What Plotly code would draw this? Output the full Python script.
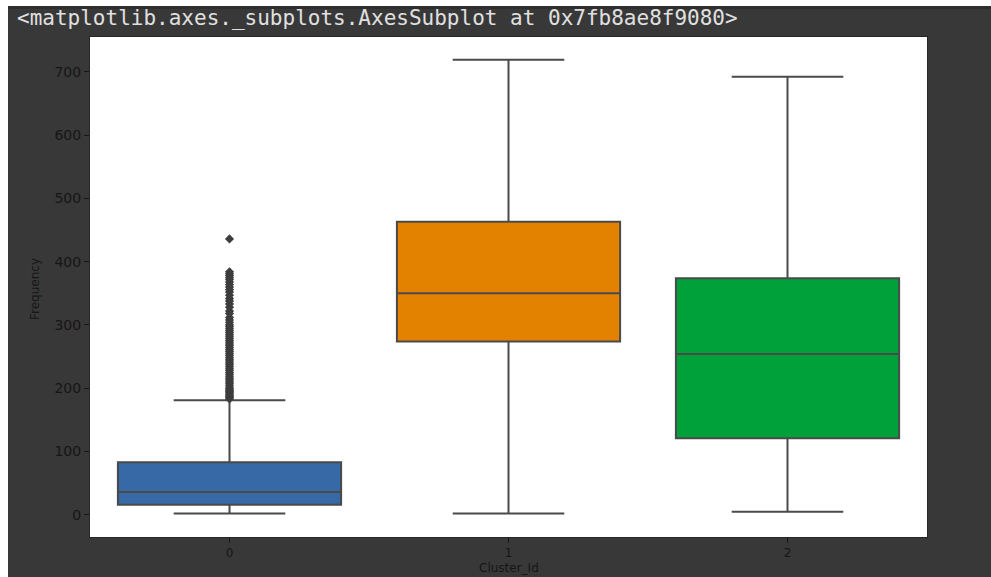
import plotly.graph_objects as go

# ---- data ----
categories = ["0", "1", "2"]
lower_whisker = [2, 2, 5]
q1_values = [16, 274, 121]
median_values = [36, 350, 254]
q3_values = [83, 463, 374]
upper_whisker = [181, 719, 692]
box_colors = ["#3669a5", "#e28200", "#00a03a"]

outliers_cluster0 = [183, 185, 187, 189, 191, 193, 195, 197, 199, 201, 204, 207,
                     210, 213, 216, 219, 222, 225, 228, 231, 234, 237, 240, 243,
                     246, 249, 252, 255, 258, 261, 264, 267, 270, 273, 276, 279,
                     282, 285, 288, 291, 294, 297, 300, 304, 308, 312, 318, 322,
                     328, 333, 338, 342, 347, 352, 356, 360, 364, 368, 372, 375,
                     378, 381, 384, 436]

y_ticks = [0, 100, 200, 300, 400, 500, 600, 700]

W, H = 991, 577
L, R, T, B = 90, 64, 37, 40
PW, PH = W - L - R, H - T - B

def px_x(px):
    return (px - L) / PW

def px_y(py):
    return (H - B - py) / PH

fig = go.Figure()

edge = "#4a4a4a"
for i, cat in enumerate(categories):
    fig.add_trace(go.Box(
        x=[cat],
        q1=[q1_values[i]], median=[median_values[i]], q3=[q3_values[i]],
        lowerfence=[lower_whisker[i]], upperfence=[upper_whisker[i]],
        fillcolor=box_colors[i],
        line=dict(color=edge, width=2),
        width=0.8, whiskerwidth=0.5,
        boxpoints=False, showlegend=False, hoverinfo="skip",
    ))

fig.add_trace(go.Scatter(
    x=[categories[0]] * len(outliers_cluster0), y=outliers_cluster0,
    mode="markers",
    marker=dict(symbol="diamond", size=7, color="#3d3d3d",
                line=dict(color="#3d3d3d", width=0)),
    showlegend=False, hoverinfo="skip",
))

tick_col = "#161616"
fig.update_layout(
    width=W, height=H,
    margin=dict(l=L, r=R, t=T, b=B, pad=0),
    paper_bgcolor="#383838",
    plot_bgcolor="#ffffff",
    font=dict(family="DejaVu Sans", color=tick_col),
    boxmode="overlay",
    xaxis=dict(type="category", categoryorder="array", categoryarray=categories,
               range=[-0.5, 2.5], showgrid=False, zeroline=False,
               showline=True, linecolor="#262626", linewidth=1, mirror=True,
               ticks="outside", ticklen=5, tickwidth=1, tickcolor=tick_col,
               tickfont=dict(size=12, color=tick_col)),
    yaxis=dict(range=[-35, 755], tickvals=y_ticks,
               ticktext=[str(v) for v in y_ticks],
               showgrid=False, zeroline=False,
               showline=True, linecolor="#262626", linewidth=1, mirror=True,
               ticks="outside", ticklen=5, tickwidth=1, tickcolor=tick_col,
               tickfont=dict(size=14, color=tick_col)),
    shapes=[
        # page white strips around the dark output cell
        dict(type="rect", xref="paper", yref="paper",
             x0=px_x(-5), x1=px_x(8), y0=px_y(H + 5), y1=px_y(-5),
             fillcolor="#ffffff", line=dict(width=0), layer="below"),
        dict(type="rect", xref="paper", yref="paper",
             x0=px_x(-5), x1=px_x(W + 5), y0=px_y(6), y1=px_y(-5),
             fillcolor="#ffffff", line=dict(width=0), layer="below"),
        dict(type="rect", xref="paper", yref="paper",
             x0=px_x(8), x1=px_x(W + 5), y0=px_y(9), y1=px_y(6),
             fillcolor="#2e2e2e", line=dict(width=0), layer="below"),
    ],
    annotations=[
        dict(text="&lt;matplotlib.axes._subplots.AxesSubplot at 0x7fb8ae8f9080&gt;",
             xref="paper", yref="paper", x=px_x(15), y=px_y(18),
             xanchor="left", yanchor="middle", showarrow=False,
             font=dict(family="DejaVu Sans Mono", size=21, color="#e0e0e0")),
        dict(text="Frequency", xref="paper", yref="paper",
             x=px_x(35), y=px_y(289), textangle=-90,
             xanchor="center", yanchor="middle", showarrow=False,
             font=dict(family="DejaVu Sans", size=12, color=tick_col)),
        dict(text="Cluster_Id", xref="paper", yref="paper",
             x=0.5, y=px_y(568),
             xanchor="center", yanchor="middle", showarrow=False,
             font=dict(family="DejaVu Sans", size=12, color=tick_col)),
    ],
)

fig.write_html("out.html")
